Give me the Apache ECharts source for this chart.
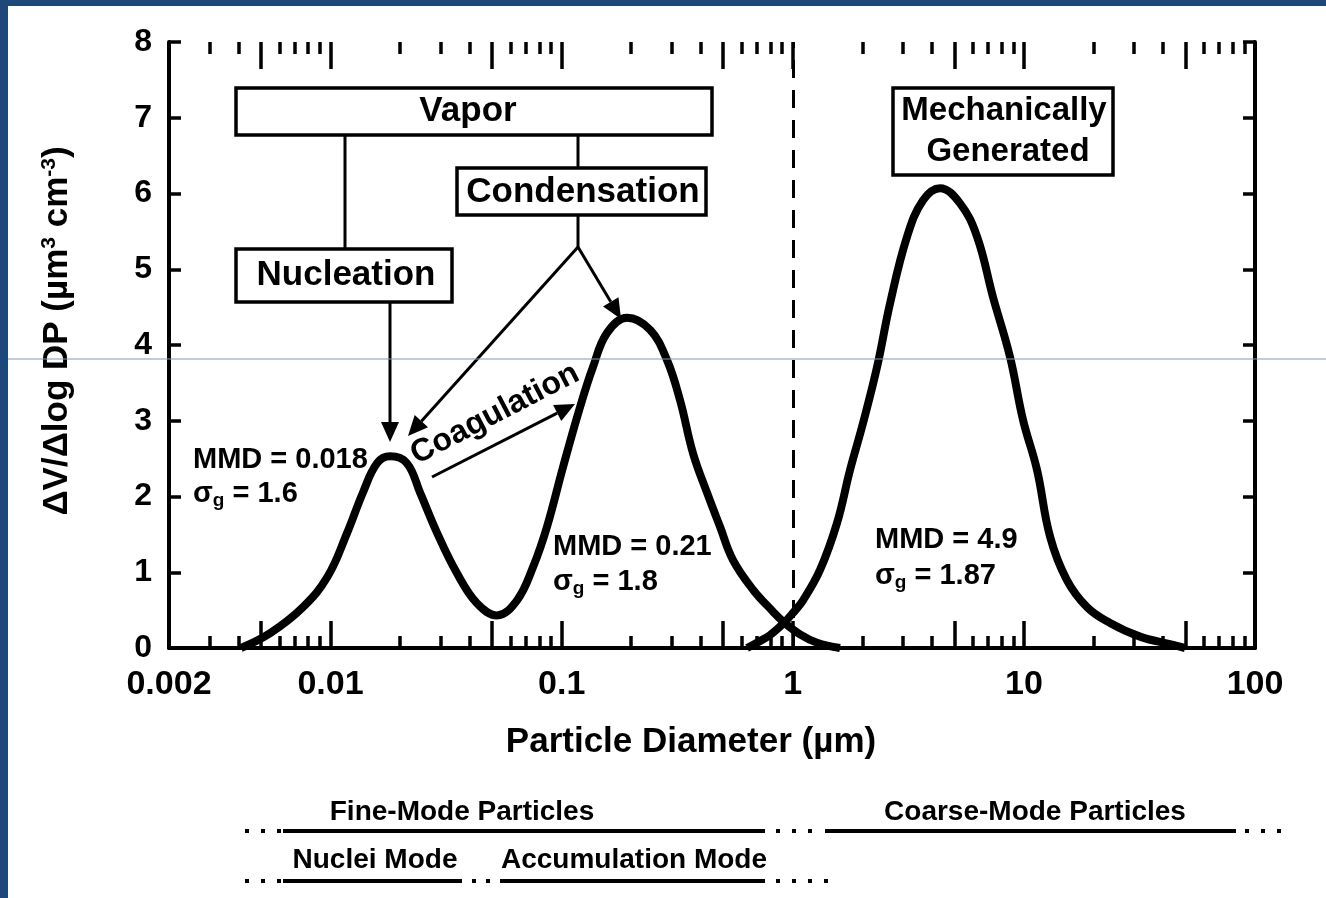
<!DOCTYPE html>
<html>
<head>
<meta charset="utf-8">
<title>Particle size distribution</title>
<script src="https://cdn.jsdelivr.net/npm/echarts@6.0.0/dist/echarts.min.js"></script>
<style>
  html, body { margin: 0; padding: 0; background: #fff; }
  #main { width: 1326px; height: 898px; }
</style>
</head>
<body>
<div id="main"></div>
<script>
// values (diameter in um, dV/dlogDp)
var nucAccDiam = [0.0041, 0.0055, 0.0076, 0.0097, 0.0118, 0.0138, 0.0159, 0.0181, 0.0214, 0.0244,
  0.0289, 0.0352, 0.043, 0.0525, 0.0641, 0.0752, 0.0864, 0.1014, 0.1201, 0.1367,
  0.1572, 0.192, 0.2412, 0.2857, 0.3253, 0.3702, 0.4256, 0.4845, 0.5514, 0.673,
  0.8215, 0.9077, 1.075, 1.274, 1.601];
var nucAccVol = [0, 0.2, 0.54, 0.94, 1.52, 2.05, 2.44, 2.53, 2.44, 2.05,
  1.52, 0.99, 0.59, 0.43, 0.63, 1.07, 1.6, 2.39, 3.18, 3.71,
  4.16, 4.36, 4.2, 3.8, 3.27, 2.57, 2.05, 1.6, 1.16, 0.77,
  0.48, 0.35, 0.18, 0.07, 0];
var coarseDiam = [0.634, 0.7, 0.797, 0.908, 1.0, 1.108, 1.312, 1.554, 1.769, 2.014,
  2.316, 2.636, 3.122, 3.662, 4.337, 5.294, 6.27, 7.355, 8.713, 9.917,
  11.4, 12.98, 15.33, 18.76, 23.6, 31.8, 44.2, 49.8];
var coarseVol = [0, 0.07, 0.17, 0.32, 0.46, 0.63, 1.03, 1.65, 2.35, 2.97,
  3.71, 4.55, 5.43, 5.91, 6.07, 5.87, 5.43, 4.63, 3.84, 3.01,
  2.35, 1.47, 0.9, 0.54, 0.33, 0.15, 0.04, 0];

var cutDiam = 1; // fine / coarse boundary
var xLabelValues = [0.002, 0.01, 0.1, 1, 10, 100];
var xLabelText = ['0.002', '0.01', '0.1', '1', '10', '100'];
var xMajorTicks = [0.005, 0.01, 0.05, 0.1, 0.5, 1, 5, 10, 50];
var xMinorTicks = [0.003, 0.004, 0.006, 0.007, 0.008, 0.009,
  0.02, 0.03, 0.04, 0.06, 0.07, 0.08, 0.09,
  0.2, 0.3, 0.4, 0.6, 0.7, 0.8, 0.9,
  2, 3, 4, 6, 7, 8, 9,
  20, 30, 40, 60, 70, 80, 90];

var FONT = '"Liberation Sans", Arial, Helvetica, sans-serif';

function lg(arr) {
  return arr.map(function (v) { return Math.log10(v); });
}
function pairs(d, v) {
  return d.map(function (x, i) { return [Math.log10(x), v[i]]; });
}

// x axis is drawn in log10 space
function xAxisOf(pos, ticks, len, withLabels) {
  return {
    type: 'value',
    position: pos,
    min: Math.log10(xLabelValues[0]),
    max: Math.log10(xLabelValues[xLabelValues.length - 1]),
    axisLine: { show: withLabels, onZero: false, lineStyle: { color: '#000', width: 4 } },
    axisTick: { show: true, inside: true, length: len, customValues: lg(ticks), lineStyle: { color: '#000', width: 3.5 } },
    axisLabel: {
      show: withLabels,
      customValues: lg(xLabelValues),
      color: '#000', fontSize: 34, fontWeight: 'bold', fontFamily: FONT, margin: 20,
      formatter: function (val) {
        for (var i = 0; i < xLabelValues.length; i++) {
          if (Math.abs(Math.log10(xLabelValues[i]) - val) < 1e-6) return xLabelText[i];
        }
        return '';
      }
    },
    splitLine: { show: false }
  };
}

function yAxisOf(pos, withLabels) {
  return {
    type: 'value', position: pos, min: 0, max: 8, interval: 1,
    axisLine: { show: true, onZero: false, lineStyle: { color: '#000', width: 4 } },
    axisTick: { inside: true, length: 12, lineStyle: { color: '#000', width: 3.5 } },
    axisLabel: { show: withLabels, color: '#000', fontSize: 32, fontWeight: 'bold', fontFamily: FONT, margin: 17 },
    splitLine: { show: false }
  };
}

// annotation helpers
function box(x, y, w, h) {
  return { type: 'rect', z: 50, shape: { x: x, y: y, width: w, height: h },
    style: { fill: '#fff', stroke: '#000', lineWidth: 3.5 } };
}
function seg(x1, y1, x2, y2, w, dash) {
  return { type: 'line', z: 50, shape: { x1: x1, y1: y1, x2: x2, y2: y2 },
    style: { stroke: '#000', lineWidth: w || 3, lineDash: dash || null } };
}
function arrow(x1, y1, x2, y2) {
  var dx = x2 - x1, dy = y2 - y1, len = Math.sqrt(dx * dx + dy * dy);
  var ux = dx / len, uy = dy / len, L = 20, W = 9;
  var bx = x2 - ux * L, by = y2 - uy * L;
  return [seg(x1, y1, bx, by, 3),
    { type: 'polygon', z: 50, shape: { points: [[x2, y2], [bx - uy * W, by + ux * W], [bx + uy * W, by - ux * W]] },
      style: { fill: '#000' } }];
}
function txt(s, x, y, size, align, extra) {
  var el = { type: 'text', z: 60, x: x, y: y,
    style: { text: s, fill: '#000', fontSize: size, fontWeight: 'bold', fontFamily: FONT,
      align: align || 'center', verticalAlign: 'middle' } };
  if (extra) {
    for (var k in extra) {
      if (k === 'rich') el.style.rich = extra.rich; else el[k] = extra[k];
    }
  }
  return el;
}
var sigmaRich = {
  a: { fontSize: 29, fontWeight: 'bold', fontFamily: FONT, fill: '#000' },
  b: { fontSize: 19, fontWeight: 'bold', fontFamily: FONT, fill: '#000', verticalAlign: 'bottom', padding: [14, 0, 0, 0] }
};

var graphics = [
  // page frame
  { type: 'rect', z: 100, shape: { x: 0, y: 0, width: 8, height: 898 }, style: { fill: '#1f487a' } },
  { type: 'rect', z: 100, shape: { x: 0, y: 0, width: 1326, height: 6 }, style: { fill: '#1f487a' } },
  { type: 'line', z: 100, shape: { x1: 8, y1: 359, x2: 1326, y2: 359 }, style: { stroke: '#8797b2', lineWidth: 1 } },

  box(236, 88, 476, 47), txt('Vapor', 468, 111, 35),
  seg(345, 135, 345, 249),
  box(236, 249, 216, 53), txt('Nucleation', 346, 275, 35),
  seg(578, 135, 578, 168),
  box(457, 168, 249, 47), txt('Condensation', 583, 192, 35),
  seg(578, 215, 578, 247),
  box(893, 88, 220, 87), txt('Mechanically', 1004, 111, 33), txt('Generated', 1008, 152, 33),

  txt('Coagulation', 495, 414, 32, 'center', { rotation: 0.48 }),

  txt('MMD = 0.018', 193, 460, 29, 'left'),
  txt('{a|σ}{b|g}{a| = 1.6}', 193, 494, 29, 'left', { rich: sigmaRich }),
  txt('MMD = 0.21', 553, 547, 29, 'left'),
  txt('{a|σ}{b|g}{a| = 1.8}', 553, 582, 29, 'left', { rich: sigmaRich }),
  txt('MMD = 4.9', 875, 540, 29, 'left'),
  txt('{a|σ}{b|g}{a| = 1.87}', 875, 576, 29, 'left', { rich: sigmaRich }),

  // axis titles
  txt('Particle Diameter (µm)', 691, 742, 35),
  txt('{a|ΔV/Δlog DP (µm}{s|3}{a| cm}{s|-3}{a|)}', 57, 331, 35, 'center', {
    rotation: Math.PI / 2,
    rich: {
      a: { fontSize: 35, fontWeight: 'bold', fontFamily: FONT, fill: '#000' },
      s: { fontSize: 21, fontWeight: 'bold', fontFamily: FONT, fill: '#000', verticalAlign: 'top', padding: [0, 0, 15, 0] }
    }
  }),

  // mode bands under the axis
  txt('Fine-Mode Particles', 462, 812, 28),
  txt('Coarse-Mode Particles', 1035, 812, 28),
  txt('Nuclei Mode', 375, 860, 28),
  txt('Accumulation Mode', 634, 860, 28),
  seg(245, 831, 282, 831, 4, [4, 12]),
  seg(283, 831, 765, 831, 4),
  seg(776, 831, 814, 831, 4, [4, 12]),
  seg(825, 831, 1236, 831, 4),
  seg(1245, 831, 1292, 831, 4, [4, 12]),
  seg(245, 881, 282, 881, 4, [4, 12]),
  seg(283, 881, 462, 881, 4),
  seg(472, 881, 494, 881, 4, [4, 10]),
  seg(500, 881, 765, 881, 4),
  seg(776, 881, 828, 881, 4, [4, 12])
];
graphics = graphics.concat(arrow(390, 302, 390, 442));
graphics = graphics.concat(arrow(578, 247, 408, 436));
graphics = graphics.concat(arrow(578, 247, 621, 319));
graphics = graphics.concat(arrow(432, 477, 575, 404));

var chart = echarts.init(document.getElementById('main'));

var option = {
  animation: false,
  backgroundColor: '#fff',
  grid: { left: 169, right: 71, top: 42, bottom: 250, containLabel: false, outerBoundsMode: 'none' },
  xAxis: [
    xAxisOf('bottom', xMajorTicks, 27, true),
    xAxisOf('bottom', xMinorTicks, 12, false),
    xAxisOf('top', xMajorTicks, 27, false),
    xAxisOf('top', xMinorTicks, 12, false)
  ],
  yAxis: [yAxisOf('left', true), yAxisOf('right', false)],
  series: [
    {
      name: 'nuclei + accumulation',
      type: 'line',
      xAxisIndex: 0, yAxisIndex: 0,
      data: pairs(nucAccDiam, nucAccVol),
      smooth: 0.4,
      showSymbol: false,
      lineStyle: { color: '#000', width: 8 },
      markLine: {
        silent: true,
        symbol: ['none', 'none'],
        label: { show: false },
        lineStyle: { color: '#000', width: 3, type: [18, 12] },
        data: [{ xAxis: Math.log10(cutDiam) }]
      }
    },
    {
      name: 'coarse',
      type: 'line',
      xAxisIndex: 0, yAxisIndex: 0,
      data: pairs(coarseDiam, coarseVol),
      smooth: 0.4,
      showSymbol: false,
      lineStyle: { color: '#000', width: 8 }
    }
  ],
  graphic: graphics
};

chart.setOption(option);
</script>
</body>
</html>
